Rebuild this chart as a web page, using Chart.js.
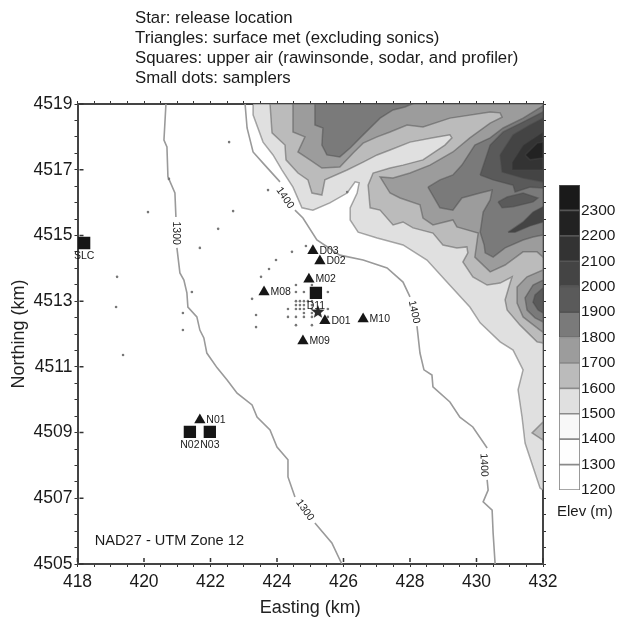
<!DOCTYPE html>
<html>
<head>
<meta charset="utf-8">
<style>
html, body { margin: 0; padding: 0; background: #fff; }
canvas { position: absolute; left: 0; top: 0; filter: blur(0.35px); }
</style>
<script src="https://cdn.jsdelivr.net/npm/chart.js@4/dist/chart.umd.min.js"></script>
</head>
<body>
<canvas id="mapChart" width="618" height="617"></canvas>
<canvas id="barChart" width="618" height="617"></canvas>
<script>
// header text
var headerLines = [
    "Star: release location",
    "Triangles: surface met (excluding sonics)",
    "Squares: upper air (rawinsonde, sodar, and profiler)",
    "Small dots: samplers"
];

// stations, easting / northing in km
var triangleNames = ["D03", "D02", "M02", "M08", "D01", "M10", "M09", "N01"];
var triangleEast = [425.08, 425.29, 424.96, 423.61, 425.44, 426.59, 424.78, 421.68];
var triangleNorth = [4514.53, 4514.22, 4513.67, 4513.28, 4512.40, 4512.46, 4511.79, 4509.38];

var squareNames = ["D11", "SLC", "N02", "N03"];
var squareEast = [425.17, 418.20, 421.38, 421.98];
var squareNorth = [4513.25, 4514.77, 4509.02, 4509.02];

var starEast = [425.23];
var starNorth = [4512.67];

var samplers = [
    [424.45, 4514.50], [424.87, 4514.68], [423.97, 4514.25], [423.76, 4513.98], [423.52, 4513.74],
    [423.25, 4513.07], [423.37, 4512.58], [423.37, 4512.21], [424.57, 4513.49], [425.05, 4513.49],
    [424.57, 4513.28], [424.81, 4513.28], [425.53, 4513.28],
    [424.57, 4513.00], [424.69, 4513.00], [424.81, 4513.00], [424.93, 4513.00], [425.05, 4513.00],
    [424.57, 4512.88], [424.69, 4512.88], [424.81, 4512.88], [425.05, 4512.88],
    [424.33, 4512.76], [424.57, 4512.76], [424.69, 4512.76], [424.81, 4512.76], [425.05, 4512.76], [425.53, 4512.76],
    [424.81, 4512.64], [425.05, 4512.64],
    [424.33, 4512.52], [424.57, 4512.52], [424.81, 4512.52], [425.05, 4512.52], [425.53, 4512.52],
    [424.57, 4512.27], [425.05, 4512.27],
    [422.56, 4517.84], [422.68, 4515.74], [422.23, 4515.20], [421.68, 4514.62], [420.12, 4515.71],
    [419.19, 4513.74], [419.16, 4512.82], [419.37, 4511.36], [421.44, 4513.28], [421.17, 4512.64],
    [421.17, 4512.12], [423.73, 4516.38], [426.11, 4516.32], [420.75, 4516.72]
];

// open contour lines, null marks the gap for the inline label
var contour1300 = [
    [420.66, 4519], [420.60, 4517.90], [420.69, 4517.69], [420.72, 4516.78], [420.93, 4516.29], [420.96, 4515.56],
    [null, null],
    [420.99, 4514.62], [421.08, 4513.86], [421.20, 4513.64], [421.29, 4513.25], [421.32, 4512.82], [421.59, 4512.52],
    [421.68, 4512.12], [421.80, 4511.88], [421.89, 4511.42], [422.20, 4510.97], [422.50, 4510.60], [422.80, 4510.20],
    [423.25, 4509.84], [423.40, 4509.47], [423.79, 4509.08], [424.00, 4508.56], [424.33, 4508.17], [424.33, 4507.65],
    [424.54, 4507.04],
    [null, null],
    [425.14, 4506.25], [425.65, 4505.64], [425.95, 4505]
];
var contour1400 = [
    [423.04, 4519], [423.10, 4518.27], [423.28, 4517.54], [423.58, 4517.20], [424.09, 4516.63],
    [null, null],
    [424.54, 4515.77], [424.78, 4515.53], [425.20, 4514.86], [425.89, 4514.40], [426.59, 4514.25], [427.31, 4514.01],
    [427.79, 4513.58], [428.00, 4513.13],
    [null, null],
    [428.21, 4512.24], [428.30, 4511.42], [428.42, 4510.91], [428.66, 4510.75], [428.69, 4510.39], [429.20, 4509.93],
    [429.50, 4509.47], [429.89, 4509.17], [430.32, 4508.53],
    [null, null],
    [430.32, 4507.56], [430.35, 4507.25], [430.20, 4506.89], [430.47, 4506.64], [430.50, 4505.94], [430.56, 4505]
];
var contourLabels = ["1300", "1300", "1400", "1400", "1400"];
var contourLabelEast = [420.96, 424.84, 424.24, 428.12, 430.22];
var contourLabelNorth = [4515.07, 4506.64, 4516.14, 4512.67, 4508.01];
var contourLabelAngle = [90, 55, 55, 78, 88];

// filled contour regions
var region1500 = [
    [423.28, 4519], [423.28, 4518.67], [423.58, 4517.84], [423.88, 4517.45], [424.15, 4516.99], [424.48, 4516.47],
    [424.75, 4515.84], [425.08, 4515.77], [425.59, 4515.99], [426.11, 4516.29], [426.35, 4516.63], [426.47, 4516.60],
    [426.41, 4516.29], [426.20, 4515.84], [426.20, 4515.47], [426.44, 4515.10], [427.01, 4514.92], [427.79, 4514.71],
    [428.51, 4514.25], [429.11, 4513.58], [429.80, 4512.82], [430.11, 4512.34], [430.71, 4511.76], [431.10, 4511.51],
    [431.40, 4510.91], [431.25, 4510.30], [431.37, 4509.47], [431.46, 4508.68], [431.91, 4507.31], [432, 4507.25],
    [432, 4519]
];
var region1600 = [
    [423.79, 4519], [423.85, 4518.12], [424.24, 4517.75], [424.27, 4517.30], [424.63, 4516.90], [424.93, 4516.69],
    [425.05, 4516.29], [425.35, 4516.23], [425.44, 4516.69], [426.11, 4516.99], [426.59, 4517.23], [427.01, 4517.45],
    [427.40, 4517.60], [428.00, 4517.84], [428.69, 4517.97], [429.20, 4518.06], [429.26, 4517.97], [429.05, 4517.75],
    [428.39, 4517.30], [427.79, 4517.14], [427.40, 4517.05], [426.89, 4516.90], [426.74, 4516.53], [426.80, 4515.84],
    [427.10, 4515.77], [427.49, 4515.32], [427.79, 4515.41], [428.09, 4515.23], [428.69, 4515.07], [428.99, 4514.71],
    [429.41, 4514.62], [429.71, 4514.65], [429.74, 4514.47], [429.59, 4514.19], [429.89, 4513.74], [430.32, 4513.49],
    [430.71, 4513.55], [431.07, 4513.74], [431.01, 4513.55], [430.86, 4513.04], [430.92, 4512.73], [431.31, 4512.27],
    [431.82, 4511.76], [432, 4511.73], [432, 4519]
];
var blob1600 = [[432, 4509.32], [431.67, 4508.99], [432, 4508.77]];
var region1700 = [
    [424.48, 4519], [424.48, 4518.15], [424.84, 4518.00], [424.63, 4517.54], [424.99, 4517.30], [425.35, 4517.05],
    [425.89, 4517.08], [426.29, 4517.51], [426.59, 4517.81], [427.01, 4518.00], [427.40, 4518.15], [427.91, 4518.36],
    [428.39, 4518.30], [429.20, 4518.57], [430.41, 4518.76], [430.71, 4518.73], [430.77, 4518.60], [430.41, 4518.42],
    [429.80, 4517.97], [429.29, 4517.54], [428.60, 4517.14], [428.00, 4516.90], [427.49, 4516.75], [427.10, 4516.78],
    [427.40, 4516.29], [427.70, 4516.14], [428.30, 4515.93], [428.39, 4515.53], [428.69, 4515.32], [429.29, 4515.47],
    [429.41, 4515.26], [430.05, 4515.07], [429.95, 4514.34], [430.41, 4513.89], [430.86, 4514.10], [431.40, 4514.50],
    [431.82, 4514.50], [432, 4514.34], [432, 4519]
];
var blob1700 = [
    [432, 4513.95], [431.52, 4513.74], [431.22, 4513.43], [431.22, 4512.94], [431.40, 4512.52], [431.91, 4512.12], [432, 4512.06]
];
var region1800a = [
    [425.14, 4519], [425.14, 4518.36], [425.38, 4518.27], [425.35, 4517.75], [425.50, 4517.45], [425.89, 4517.39],
    [426.20, 4517.66], [426.59, 4518.06], [427.10, 4518.57], [427.49, 4518.82], [427.85, 4518.91], [428.06, 4519]
];
var region1800b = [
    [428.54, 4516.47], [428.90, 4516.69], [429.29, 4516.84], [429.56, 4517.14], [429.95, 4517.75], [430.41, 4517.97],
    [430.80, 4518.27], [431.40, 4518.57], [432, 4518.94], [432, 4515.01], [431.70, 4514.95], [431.40, 4514.86],
    [430.86, 4514.62], [430.50, 4514.34], [430.26, 4514.47], [430.23, 4514.71], [430.11, 4515.10], [430.20, 4515.71],
    [430.41, 4516.08], [430.47, 4516.38], [430.11, 4516.29], [429.56, 4516.14], [429.29, 4515.77], [428.90, 4515.84]
];
var blob1800 = [
    [432, 4513.64], [431.70, 4513.49], [431.46, 4513.10], [431.52, 4512.73], [431.76, 4512.49], [432, 4512.37]
];
var region1900 = [
    [430.11, 4516.84], [430.41, 4517.75], [430.80, 4518.15], [431.40, 4518.45], [432, 4518.76], [432, 4516.44],
    [431.61, 4516.47], [431.16, 4516.32], [431.10, 4516.53], [430.50, 4516.69]
];
var lens1900 = [
    [430.65, 4516.02], [430.92, 4516.17], [431.40, 4516.29], [431.85, 4516.14], [431.70, 4516.02], [431.10, 4515.87], [430.77, 4515.84]
];
var blob1900 = [[432, 4513.40], [431.76, 4513.19], [431.70, 4512.97], [431.85, 4512.73], [432, 4512.64]];
var region2000 = [
    [430.71, 4517.45], [431.10, 4518.06], [431.61, 4518.36], [432, 4518.57], [432, 4516.63], [431.40, 4516.75], [430.77, 4516.93]
];
var lens2000 = [
    [430.95, 4515.10], [431.40, 4515.41], [431.70, 4515.71], [432, 4515.87], [432, 4515.41], [431.61, 4515.29], [431.16, 4515.10]
];
var region2100 = [
    [431.07, 4517.23], [431.40, 4517.75], [432, 4518.15], [432, 4516.99], [431.61, 4516.99], [431.07, 4516.99]
];
var region2200 = [
    [431.46, 4517.45], [431.82, 4517.81], [432, 4517.84], [432, 4517.36], [431.61, 4517.30]
];

// colour bar
var elevLevels = [1200, 1300, 1400, 1500, 1600, 1700, 1800, 1900, 2000, 2100, 2200, 2300];
var elevColors = ["#ffffff", "#fefefe", "#f8f8f8", "#e0e0e0", "#bbbbbb", "#9c9c9c", "#7a7a7a", "#5a5a5a", "#444444", "#333333", "#222222", "#1a1a1a"];

var fontName = "'Liberation Sans', Arial, sans-serif";
var lineColor = "rgba(70,70,70,0.45)";

function toPoints(list) {
    return list.map(function (p) { return { x: p[0], y: p[1] }; });
}

function zipPoints(east, north) {
    return east.map(function (v, i) { return { x: v, y: north[i] }; });
}

function regionSet(list, color, order) {
    return {
        data: toPoints(list.concat([list[0]])),
        showLine: true,
        fill: "shape",
        backgroundColor: color,
        borderColor: lineColor,
        borderWidth: 1.5,
        pointRadius: 0,
        tension: 0,
        order: order
    };
}

function lineSet(list, order) {
    return {
        data: toPoints(list),
        showLine: true,
        fill: false,
        borderColor: "#9a9a9a",
        borderWidth: 1.6,
        pointRadius: 0,
        tension: 0,
        spanGaps: false,
        order: order
    };
}

function markerSet(points, style, radius, color, order) {
    return {
        data: points,
        showLine: false,
        pointStyle: style,
        pointRadius: radius,
        pointBackgroundColor: color,
        pointBorderColor: color,
        pointBorderWidth: 0,
        order: order
    };
}

// filled star, the built-in one is only strokes
function starImage(size, color) {
    var c = document.createElement("canvas");
    c.width = size;
    c.height = size;
    var g = c.getContext("2d");
    g.fillStyle = color;
    g.beginPath();
    for (var i = 0; i < 10; i++) {
        var r = i % 2 == 0 ? size / 2 : size / 4.6;
        var a = -Math.PI / 2 + i * Math.PI / 5;
        g.lineTo(size / 2 + r * Math.cos(a), size / 2 + r * Math.sin(a));
    }
    g.closePath();
    g.fill();
    return c;
}

var mapSets = [
    regionSet(region1500, elevColors[3], 40),
    lineSet(contour1300, 39),
    lineSet(contour1400, 38),
    regionSet(region1600, elevColors[4], 37),
    regionSet(blob1600, elevColors[4], 36),
    regionSet(region1700, elevColors[5], 35),
    regionSet(blob1700, elevColors[5], 34),
    regionSet(region1800a, elevColors[6], 33),
    regionSet(region1800b, elevColors[6], 32),
    regionSet(blob1800, elevColors[6], 31),
    regionSet(region1900, elevColors[7], 30),
    regionSet(lens1900, elevColors[7], 29),
    regionSet(blob1900, elevColors[7], 28),
    regionSet(region2000, elevColors[8], 27),
    regionSet(lens2000, elevColors[8], 26),
    regionSet(region2100, elevColors[9], 25),
    regionSet(region2200, elevColors[10], 24),
    markerSet(toPoints(samplers), "circle", 1.3, "#777777", 5),
    markerSet(zipPoints(squareEast, squareNorth), "rect", 8.7, "#161616", 4),
    markerSet(zipPoints(triangleEast, triangleNorth), "triangle", 6.5, "#161616", 3),
    markerSet(zipPoints(starEast, starNorth), starImage(14, "#2a2a2a"), 7, "#2a2a2a", 2)
];

function axisOptions(position, min, max, size, showLabels, titleText, titlePadding) {
    var horizontal = position == "bottom" || position == "top";
    return {
        type: "linear",
        position: position,
        min: min,
        max: max,
        title: { display: !!titleText, text: titleText, color: "#222", font: { family: fontName, size: 18 }, padding: titlePadding },
        border: { display: true, color: "#444", width: 2 },
        grid: { drawOnChartArea: false, drawTicks: true, tickLength: 3, tickColor: "#333", tickWidth: 1 },
        ticks: {
            stepSize: 0.5,
            autoSkip: false,
            maxRotation: 0,
            minRotation: 0,
            padding: horizontal ? 5 : 2,
            color: "#1a1a1a",
            font: { family: fontName, size: 17.5 },
            callback: function (value) {
                if (!showLabels) return "";
                return (value - min) % 2 === 0 ? String(value) : "";
            }
        },
        afterFit: function (scale) {
            if (horizontal) scale.height = size; else scale.width = size;
        }
    };
}

// longer marks for the labelled ticks, inline labels, header
var mapText = {
    id: "mapText",
    afterDraw: function (chart) {
        var ctx = chart.ctx;
        var sx = chart.scales.x, sy = chart.scales.y;
        ctx.save();

        ctx.strokeStyle = "#333";
        ctx.lineWidth = 1.5;
        ctx.beginPath();
        for (var ex = 418; ex <= 432; ex += 2) {
            var px = sx.getPixelForValue(ex);
            ctx.moveTo(px, sx.bottom + 2); ctx.lineTo(px, sx.bottom + 6);
            ctx.moveTo(px, sx.top - 2); ctx.lineTo(px, sx.top - 6);
        }
        for (var ny = 4505; ny <= 4519; ny += 2) {
            var py = sy.getPixelForValue(ny);
            ctx.moveTo(sy.left - 2, py); ctx.lineTo(sy.left - 6, py);
            ctx.moveTo(sy.right + 2, py); ctx.lineTo(sy.right + 6, py);
        }
        ctx.stroke();

        ctx.fillStyle = "#1a1a1a";
        ctx.textBaseline = "middle";

        ctx.font = "16.8px " + fontName;
        ctx.textAlign = "left";
        headerLines.forEach(function (t, i) {
            ctx.fillText(t, 135, 18 + i * 20);
        });

        ctx.font = "15px " + fontName;
        ctx.fillText("Elev (m)", 557, 512);

        ctx.font = "14.6px " + fontName;
        ctx.fillText("NAD27 - UTM Zone 12", sx.getPixelForValue(418.52), sy.getPixelForValue(4505.7));

        ctx.font = "10.5px " + fontName;
        triangleNames.forEach(function (t, i) {
            ctx.fillText(t, sx.getPixelForValue(triangleEast[i]) + 6.5, sy.getPixelForValue(triangleNorth[i]));
        });
        ctx.textAlign = "center";
        squareNames.forEach(function (t, i) {
            ctx.fillText(t, sx.getPixelForValue(squareEast[i]), sy.getPixelForValue(squareNorth[i]) + 13.5);
        });

        contourLabels.forEach(function (t, i) {
            ctx.save();
            ctx.translate(sx.getPixelForValue(contourLabelEast[i]), sy.getPixelForValue(contourLabelNorth[i]));
            ctx.rotate(contourLabelAngle[i] * Math.PI / 180);
            ctx.fillText(t, 0, 0);
            ctx.restore();
        });
        ctx.restore();
    }
};

var mapChart = new Chart(document.getElementById("mapChart"), {
    type: "scatter",
    data: { datasets: mapSets },
    options: {
        responsive: false,
        animation: false,
        layout: { padding: { top: 99, right: 70, bottom: 0, left: 0 } },
        plugins: { legend: { display: false }, tooltip: { enabled: false } },
        scales: {
            x: axisOptions("bottom", 418, 432, 53, true, "Easting (km)", { top: 0, bottom: -2 }),
            y: axisOptions("left", 4505, 4519, 77.5, true, "Northing (km)", { top: 8, bottom: 0 }),
            x2: axisOptions("top", 418, 432, 5, false),
            y2: axisOptions("right", 4505, 4519, 5, false)
        }
    },
    plugins: [mapText]
});

// colour bar on its own canvas, one floating bar per band
var barSets = elevLevels.map(function (level, i) {
    return {
        label: String(level),
        data: [[level, level + 100]],
        backgroundColor: elevColors[i],
        borderColor: i < 6 ? "#8a8a8a" : "#555",
        borderWidth: 1.2,
        borderSkipped: false,
        grouped: false,
        barPercentage: 1,
        categoryPercentage: 1
    };
});

// the scale clips its own tick labels to a box this narrow, so they are written here
var barLabels = {
    id: "barLabels",
    afterDraw: function (chart) {
        var ctx = chart.ctx;
        var sy = chart.scales.y;
        ctx.save();
        ctx.fillStyle = "#1a1a1a";
        ctx.font = "15.5px " + fontName;
        ctx.textAlign = "left";
        ctx.textBaseline = "middle";
        elevLevels.forEach(function (level) {
            ctx.fillText(String(level), chart.chartArea.right + 1, sy.getPixelForValue(level));
        });
        ctx.restore();
    }
};

var barChart = new Chart(document.getElementById("barChart"), {
    type: "bar",
    data: { labels: ["Elev"], datasets: barSets },
    options: {
        responsive: false,
        animation: false,
        layout: { padding: { top: 185, right: 17, bottom: 127, left: 559 } },
        plugins: { legend: { display: false }, tooltip: { enabled: false } },
        scales: {
            x: { display: false },
            y: {
                position: "right",
                min: 1200,
                max: 2400,
                border: { display: false },
                grid: { display: false },
                ticks: { display: false, stepSize: 100 },
                afterFit: function (scale) { scale.width = 21; }
            }
        }
    },
    plugins: [barLabels]
});
</script>
</body>
</html>
